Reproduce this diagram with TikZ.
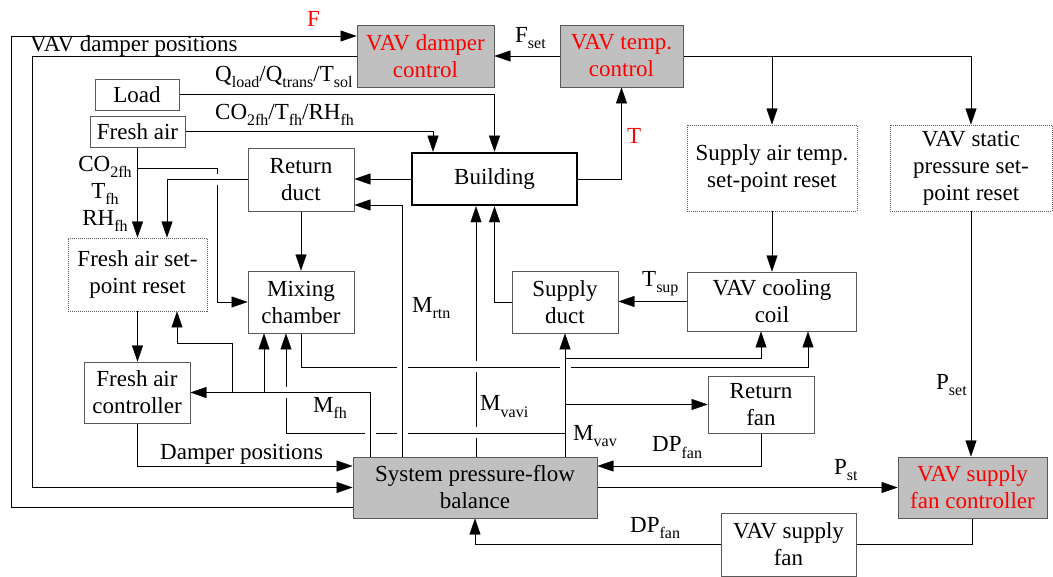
\documentclass[tikz,border=0pt]{standalone}
\usepackage{fontspec}
\setmainfont{Liberation Serif}
\usetikzlibrary{arrows.meta, positioning, calc}
\pgfdeclarelayer{background}
\pgfsetlayers{background,main}
\definecolor{boxgray}{RGB}{192,192,192}
\newcommand{\sbs}[1]{\raisebox{-6pt}{\fontsize{16}{16}\selectfont #1}}

\tikzset{
  blk/.style={draw=black!65, fill=white, inner sep=0pt, align=center},
  ctl/.style={blk, fill=boxgray, text=red},
  rst/.style={blk, dash pattern=on 1pt off 1pt},
  lab/.style={inner sep=0pt, anchor=base west},
  bridge/.style={preaction={draw, white, line width=11pt, -, shorten <=2pt, shorten >=2pt}}
}

\begin{document}
\begin{tikzpicture}[x=1pt, y=-1pt, >={Triangle[length=16pt, width=11pt]}, line width=0.9pt,
    font=\fontsize{23}{27}\selectfont]
  \useasboundingbox (0,0) rectangle (1053,577);

  % controllers
  \node[ctl, minimum width=137pt, minimum height=62pt] (dmp) at (425.5,56) {VAV damper\\control};
  \node[ctl, minimum width=123pt, minimum height=62pt] (tmp) at (621.5,56) {VAV temp.\\control};
  \node[ctl, minimum width=149pt, minimum height=61pt] (sfc) at (972.5,487.5) {VAV supply\\fan controller};
  \node[ctl, text=black, minimum width=244pt, minimum height=61pt] (sys) at (475,487.5) {System pressure-flow\\balance};

  % set-point resets
  \node[rst, minimum width=170pt, minimum height=86pt] (sat) at (772,168) {Supply air temp.\\set-point reset};
  \node[rst, minimum width=162pt, minimum height=86pt] (vsp) at (971,168) {VAV static\\pressure set-\\point reset};
  \node[rst, minimum width=139pt, minimum height=73pt] (fsr) at (137.5,274.5) {Fresh air set-\\point reset};

  % plant
  \node[blk, draw=black, line width=2.5pt, minimum width=165pt, minimum height=52pt] (bld) at (494.5,179) {Building};
  \node[blk, minimum width=106pt, minimum height=63pt] (rd) at (301,179.5) {Return\\duct};
  \node[blk, minimum width=106pt, minimum height=62pt] (mix) at (301,302) {Mixing\\chamber};
  \node[blk, minimum width=106pt, minimum height=62pt] (sd) at (565,302) {Supply\\duct};
  \node[blk, minimum width=169pt, minimum height=59pt] (coil) at (772,301.5) {VAV cooling\\coil};
  \node[blk, minimum width=106pt, minimum height=57pt] (rfan) at (761,404.5) {Return\\fan};
  \node[blk, minimum width=135pt, minimum height=63pt] (sfan) at (788.5,544.5) {VAV supply\\fan};
  \node[blk, minimum width=84pt, minimum height=31pt] (load) at (137,94.5) {Load};
  \node[blk, minimum width=95pt, minimum height=31pt] (fa) at (137.5,131.5) {Fresh air};
  \node[blk, minimum width=106pt, minimum height=61pt] (fac) at (137,392.5) {Fresh air\\controller};

  % lanes
  \coordinate (lnF) at (11,36);
  \coordinate (lnD) at (32,487.5);
  \coordinate (xfa) at (433,0);
  \coordinate (xrt) at (402,0);
  \coordinate (xvi) at (476,0);
  \coordinate (xfh) at (370,0);
  \coordinate (xm1) at (264,0);
  \coordinate (xm2) at (286,0);
  \coordinate (xfr) at (232,0);
  \coordinate (xfs) at (177,0);
  \coordinate (xrd) at (167,0);
  \coordinate (xco) at (217,0);
  \coordinate (xc1) at (761,0);
  \coordinate (xc2) at (808,0);
  \coordinate (yco) at (0,168);
  \coordinate (yrt) at (0,205);
  \coordinate (yfr) at (0,343);
  \coordinate (ysd) at (0,358);
  \coordinate (ymx) at (0,367);
  \coordinate (yvv) at (0,433);
  \coordinate (ydp) at (0,466);
  \coordinate (yfo) at (0,507);

  \begin{pgfonlayer}{background}
    % signals
    \draw[->] (sys.west |- yfo) -| (lnF) -- (dmp.west |- lnF);
    \draw[->] (dmp.west) -| (lnD) -- (sys.west);
    \draw[->] (tmp.west) -- (dmp.east);
    \draw[->] (tmp.east) -| (vsp.north);
    \draw[->] (tmp.east -| sat.north) -- (sat.north);
    \draw[->] (sat.south) -- (sat.south |- coil.north);
    \draw[->] (vsp.south) -- (vsp.south |- sfc.north);
    \draw (sfc.south) |- (sfan.east);
    \draw[->] (sfan.west) -| (sys.south);
    \draw[->] (sys.east) -- (sfc.west);
    \draw[->] (rfan.south) |- (sys.east |- ydp);
    \draw[->] (fac.south) |- (sys.west |- ydp);
    \draw[->] (fsr.south) -- (fsr.south |- fac.north);
    \draw[->] (bld.east) -| (tmp.south);
    % plant flows
    \draw[->] (load.east) -| (bld.north);
    \draw[->] (fa.east) -| (xfa |- bld.north);
    \draw[->] (fa.south) -- (fsr.north);
    \draw[->] (fa.south |- yco) -| (xco |- mix.west) -- (mix.west);
    \draw[->] (rd.south) -- (mix.north);
    \draw[->] (bld.west) -- (bld.west -| rd.east);
    \draw[->] (xvi |- sys.north) -- (xvi |- bld.south);
    \draw[->] (sd.west) -| (bld.south);
    \draw[->] (coil.west) -- (coil.west -| sd.east);
    % crossing lines
    \draw[->, bridge] (mix.south) |- (xc2 |- ymx) -- (xc2 |- coil.south);
    \draw[->, bridge] (sd.south |- sys.north) -- (sd.south);
    \draw[->, bridge] (sd.south |- yvv) -| (xm2 |- mix.south);
    \draw[->, bridge] (xrt |- sys.north) |- (rd.east |- yrt);
    \draw[->, bridge] (xfh |- sys.north) |- (fac.east);
    \draw[->, bridge] (rd.west) -| (xrd |- fsr.north);
    % branches
    \draw[->] (sd.south |- ysd) -| (xc1 |- coil.south);
    \draw[->] (sd.south |- rfan.west) -- (rfan.west);
    \draw[->] (xm1 |- fac.east) -- (xm1 |- mix.south);
    \draw[->] (xfr |- fac.east) |- (xfs |- yfr) -- (xfs |- fsr.south);
  \end{pgfonlayer}

  % labels
  \node[lab, text=red] (lF) at (307,27) {F};
  \node[lab] (lvdp) at (30,52) {VAV damper positions};
  \node[lab] (lq) at (215,82) {Q\sbs{load}/Q\sbs{trans}/T\sbs{sol}};
  \node[lab] (lco) at (215,120) {CO\sbs{2fh}/T\sbs{fh}/RH\sbs{fh}};
  \node[inner sep=0pt, align=center, anchor=base] (lstk) at (105,226) {CO\sbs{2fh}\\T\sbs{fh}\\RH\sbs{fh}};
  \node[lab] (lfs) at (515,43) {F\sbs{set}};
  \node[lab, text=red] (lT) at (627,144) {T};
  \node[lab] (lrt) at (412,313) {M\sbs{rtn}};
  \node[lab] (lts) at (642,287) {T\sbs{sup}};
  \node[lab] (lfh) at (313,413) {M\sbs{fh}};
  \node[lab] (lvi) at (480,411) {M\sbs{vavi}};
  \node[lab] (lvv) at (573,440) {M\sbs{vav}};
  \node[lab] (ldp) at (652,452) {DP\sbs{fan}};
  \node[lab] (ldmp) at (160,460) {Damper positions};
  \node[lab] (lst) at (834,474) {P\sbs{st}};
  \node[lab] (lset) at (936,390) {P\sbs{set}};
  \node[lab] (ldp2) at (630,532) {DP\sbs{fan}};
\end{tikzpicture}
\end{document}
